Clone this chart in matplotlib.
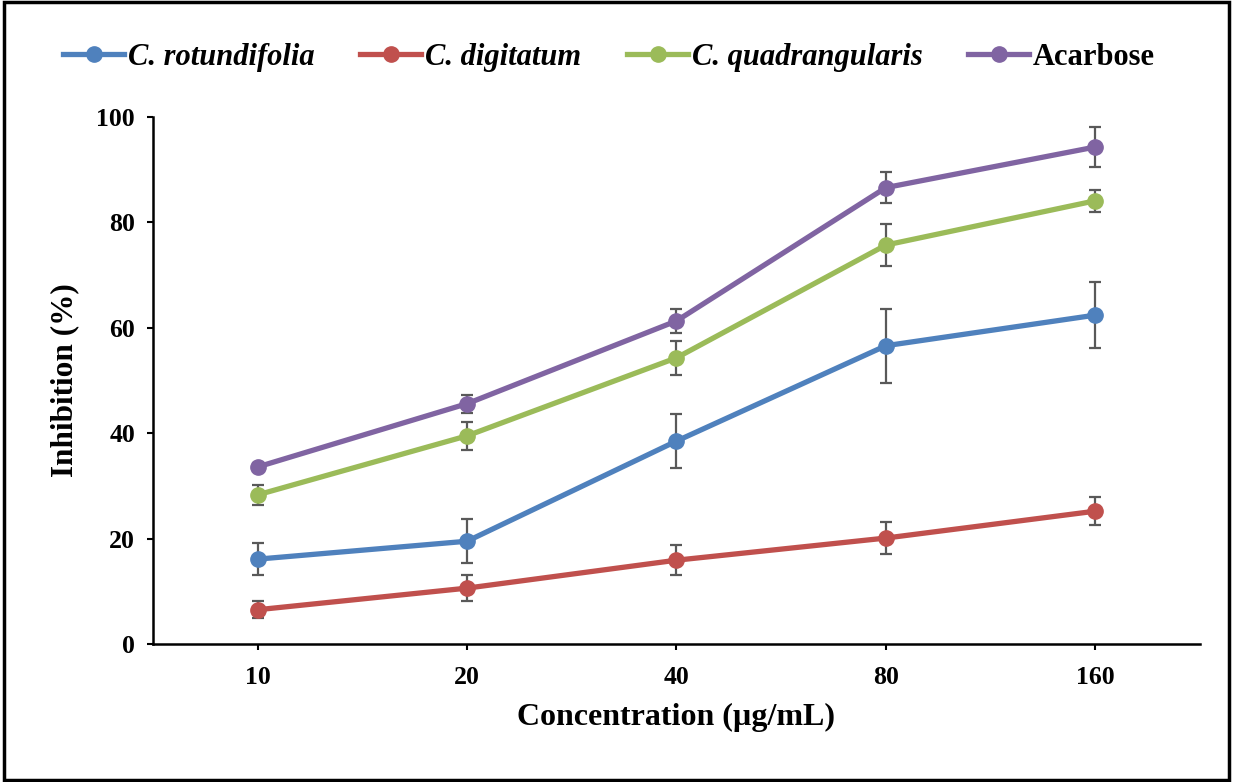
import numpy as np
import matplotlib.pyplot as plt
from matplotlib.patches import Rectangle

plt.rc('font', family='Liberation Serif', weight='bold')

conc = ['10', '20', '40', '80', '160']
rotundifolia = [16.1, 19.5, 38.5, 56.6, 62.4]
rotundifolia_err = [3.0, 4.2, 5.1, 7.0, 6.3]
digitatum = [6.5, 10.6, 15.9, 20.1, 25.2]
digitatum_err = [1.6, 2.4, 2.9, 3.0, 2.7]
quadrangularis = [28.3, 39.5, 54.3, 75.7, 84.1]
quadrangularis_err = [1.9, 2.7, 3.2, 4.0, 2.1]
acarbose = [33.6, 45.6, 61.3, 86.6, 94.3]
acarbose_err = [0.8, 1.7, 2.3, 2.9, 3.8]

fig = plt.figure(figsize=(12.33, 7.82), dpi=100)
ax = fig.add_axes([0.1241, 0.1765, 0.8491, 0.6739])
x = np.arange(len(conc))

series = [
    (rotundifolia, rotundifolia_err, '#4F81BD', 'C. rotundifolia', True),
    (digitatum, digitatum_err, '#C0504D', 'C. digitatum', True),
    (quadrangularis, quadrangularis_err, '#9BBB59', 'C. quadrangularis', True),
    (acarbose, acarbose_err, '#8064A2', 'Acarbose', False),
]

for i, (vals, err, col, lab, it) in enumerate(series):
    ax.errorbar(x, vals, yerr=err, fmt='none', ecolor='#595959', elinewidth=1.6,
                capsize=4.3, capthick=1.6, zorder=2 + 2 * i)
    ax.plot(x, vals, color=col, lw=3.8, marker='o', ms=11, label=lab, zorder=3 + 2 * i)

ax.set_xlim(-0.5, 4.5)
ax.set_ylim(0, 100)
ax.set_xticks(x)
ax.set_xticklabels(conc)
ax.set_yticks(np.arange(0, 101, 20))
ax.tick_params(axis='both', labelsize=18.5, width=1.5, length=4, direction='out')
ax.tick_params(axis='x', pad=12)
ax.tick_params(axis='y', pad=9)
for s in ['top', 'right']:
    ax.spines[s].set_visible(False)
for s in ['left', 'bottom']:
    ax.spines[s].set_linewidth(1.8)

ax.set_xlabel('Concentration (µg/mL)', fontsize=23, fontweight='bold', labelpad=10)
ax.set_ylabel('Inhibition (%)', fontsize=22.5, fontweight='bold', labelpad=12)

leg = fig.legend(loc='center', bbox_to_anchor=(0.494, 0.927), ncol=4, frameon=False,
                 fontsize=22, handlelength=2.0, handletextpad=0.12, columnspacing=1.5)
for t, s in zip(leg.get_texts(), series):
    if s[4]:
        t.set_style('italic')

fig.patches.append(Rectangle((0.003, 0.003), 0.994, 0.994, transform=fig.transFigure,
                             fill=False, edgecolor='black', lw=2.5))

plt.savefig('out.png', dpi=100)
plt.close()
